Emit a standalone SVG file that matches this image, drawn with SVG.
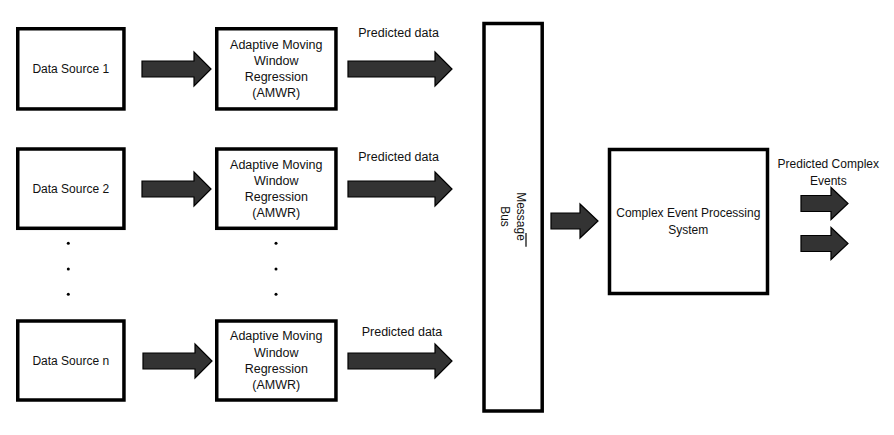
<svg xmlns="http://www.w3.org/2000/svg" width="894" height="435" viewBox="0 0 894 435">
<style>
.box{fill:#fff;stroke:#000;stroke-width:3.5}
.t{font-family:"Liberation Sans",Arial,sans-serif;font-size:12px;fill:#111;text-anchor:middle}
.t5{font-size:12.5px}
.arr{fill:#333;stroke:#000;stroke-width:1.2;stroke-linejoin:miter}
.dot{fill:#000}
</style>
<defs>
<path id="a1" d="M0,-8 H52 V-17 L69,0 L52,17 V8 H0 Z"/>
<path id="a2" d="M0,-8 H87 V-17 L104,0 L87,17 V8 H0 Z"/>
<path id="a3" d="M0,-8 H29 V-17 L47,0 L29,17 V8 H0 Z"/>
<path id="a4" d="M0,-8 H30 V-16 L47,0 L30,16 V8 H0 Z"/>
</defs>
<rect width="894" height="435" fill="#fff"/>

<g id="ds1"><rect class="box" x="17.75" y="28.75" width="106.2" height="80.2"/><text class="t" x="70.8" y="73.2">Data Source 1</text></g>
<g id="ds2"><rect class="box" x="17.75" y="149" width="106.2" height="79.3"/><text class="t" x="70.8" y="192.5">Data Source 2</text></g>
<g id="dsn"><rect class="box" x="17.75" y="321" width="106.2" height="79"/><text class="t" x="70.8" y="365.2">Data Source n</text></g>

<g id="amwr1"><rect class="box" x="216.75" y="28.75" width="119.2" height="80.2"/>
<text class="t t5" x="276.3" y="49.3">Adaptive Moving</text><text class="t t5" x="276.3" y="65.3">Window</text><text class="t t5" x="276.3" y="81.1">Regression</text><text class="t t5" x="276.3" y="97">(AMWR)</text></g>
<g id="amwr2"><rect class="box" x="216.75" y="149" width="119.2" height="79.3"/>
<text class="t t5" x="276.3" y="169.4">Adaptive Moving</text><text class="t t5" x="276.3" y="185">Window</text><text class="t t5" x="276.3" y="201">Regression</text><text class="t t5" x="276.3" y="217">(AMWR)</text></g>
<g id="amwrn"><rect class="box" x="216.75" y="321" width="119.2" height="79"/>
<text class="t t5" x="276.3" y="340.4">Adaptive Moving</text><text class="t t5" x="276.3" y="357">Window</text><text class="t t5" x="276.3" y="372.6">Regression</text><text class="t t5" x="276.3" y="388.5">(AMWR)</text></g>

<g id="dots">
<circle class="dot" cx="68.3" cy="243.3" r="1.5"/><circle class="dot" cx="68.3" cy="269" r="1.5"/><circle class="dot" cx="68.3" cy="294.3" r="1.5"/>
<circle class="dot" cx="276" cy="243.3" r="1.5"/><circle class="dot" cx="276" cy="269" r="1.5"/><circle class="dot" cx="276" cy="294.3" r="1.5"/>
</g>

<g id="bus"><rect class="box" x="484" y="23.5" width="58.2" height="387.5"/>
<g transform="translate(521,216.5) rotate(90)"><text class="t" x="0" y="4.2">Message</text><text class="t" x="0" y="20.2">Bus</text></g>
<line x1="526" y1="233" x2="526" y2="246.7" stroke="#000" stroke-width="1.2"/></g>

<g id="cep"><rect class="box" x="609.5" y="149.5" width="158" height="144"/>
<text class="t" x="688.3" y="216.5">Complex Event Processing</text><text class="t" x="688.3" y="233.5">System</text></g>

<g id="connectors">
<use href="#a1" class="arr" transform="translate(142,69)"/>
<use href="#a2" class="arr" transform="translate(348,69)"/>
<use href="#a1" class="arr" transform="translate(142,189)"/>
<use href="#a2" class="arr" transform="translate(348,189)"/>
<use href="#a1" class="arr" transform="translate(143,361)"/>
<use href="#a2" class="arr" transform="translate(348,361)"/>
<use href="#a3" class="arr" transform="translate(551,221)"/>
<use href="#a4" class="arr" transform="translate(801,203.5)"/>
<use href="#a4" class="arr" transform="translate(801,243.5)"/>
<text class="t t5" x="398.6" y="37">Predicted data</text>
<text class="t t5" x="398.6" y="161">Predicted data</text>
<text class="t t5" x="402" y="336">Predicted data</text>
<text class="t" x="828.3" y="167.5">Predicted Complex</text>
<text class="t" x="828.3" y="184.5">Events</text>
</g>
</svg>
